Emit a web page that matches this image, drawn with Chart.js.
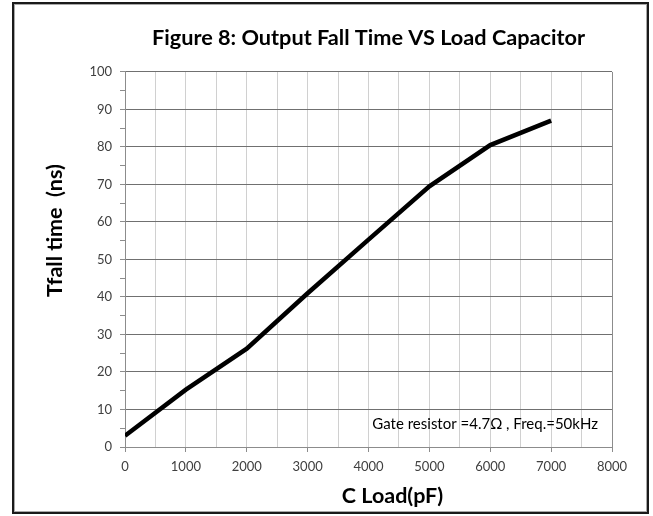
<!DOCTYPE html>
<html><head><meta charset="utf-8">
<script src="https://cdn.jsdelivr.net/npm/chart.js@4.4.0/dist/chart.umd.min.js"></script>
<style>html,body{margin:0;padding:0;background:#fff}#wrap{width:653px;height:516px;position:relative}</style>
</head><body><div id="wrap"><canvas id="c" width="653" height="516"></canvas></div>
<script>
const chartTitle = 'Figure 8: Output Fall Time VS Load Capacitor';
const xAxisTitle = 'C Load(pF)';
const yAxisTitle = 'Tfall time  (ns)';
const noteText = 'Gate resistor =4.7\u03A9 , Freq.=50kHz';
const cLoad = [0, 1000, 2000, 3000, 4000, 5000, 6000, 7000];
const tFall = [3, 15.3, 26.2, 41, 55.3, 69.5, 80.5, 87];
const xTickLabels = ['0', '1000', '2000', '3000', '4000', '5000', '6000', '7000', '8000'];
const yTickLabels = ['0', '10', '20', '30', '40', '50', '60', '70', '80', '90', '100'];

const FONT = 'Lato, "Open Sans", "Liberation Sans", sans-serif';
Chart.defaults.font.family = FONT;

const framePlugin = {
  id: 'frame',
  beforeDraw(chart) {
    const ctx = chart.ctx;
    ctx.save();
    ctx.fillStyle = '#ffffff';
    ctx.fillRect(0, 0, chart.width, chart.height);
    ctx.restore();
  },
  afterDraw(chart) {
    const ctx = chart.ctx;
    const a = chart.chartArea;
    ctx.save();
    ctx.strokeStyle = '#1a1a1a';
    ctx.lineWidth = 2;
    ctx.strokeRect(13, 3, 635, 510);
    ctx.strokeStyle = '#a8a8a8';
    ctx.lineWidth = 1;
    ctx.strokeRect(14.5, 4.5, 632, 507);
    ctx.fillStyle = '#000';
    // annotation
    ctx.font = '15px ' + FONT;
    ctx.textAlign = 'right';
    ctx.textBaseline = 'middle';
    ctx.fillText(noteText, a.right - 14, a.bottom - 23);
    // x axis title
    ctx.font = 'bold 21.5px ' + FONT;
    ctx.textAlign = 'center';
    ctx.textBaseline = 'alphabetic';
    ctx.fillText(xAxisTitle, (a.left + a.right) / 2 + 24, 503);
    // y axis title (rotated)
    ctx.translate(a.left - 63, a.bottom - 150);
    ctx.rotate(-Math.PI / 2);
    ctx.textAlign = 'left';
    ctx.fillText(yAxisTitle, 0, 0);
    ctx.restore();
  }
};

const labelFor = (arr, v) => {
  const s = String(v);
  return arr.includes(s) ? s : '';
};

new Chart(document.getElementById('c'), {
  type: 'line',
  data: {
    datasets: [{
      data: cLoad.map((x, i) => ({ x: x, y: tFall[i] })),
      borderColor: '#000',
      borderWidth: 4.5,
      pointRadius: 0,
      tension: 0,
      fill: false
    }]
  },
  options: {
    responsive: false,
    animation: false,
    devicePixelRatio: 1,
    layout: { padding: { left: 37, right: 41, top: 0, bottom: 6 } },
    plugins: {
      legend: { display: false },
      tooltip: { enabled: false },
      title: {
        display: true,
        text: chartTitle,
        fullSize: false,
        color: '#000',
        font: { size: 21.7, weight: 'bold', family: FONT, lineHeight: 1.2 },
        padding: { top: 25, bottom: 20.9 }
      }
    },
    scales: {
      x: {
        type: 'linear',
        min: 0, max: 8000,
        afterFit(s) { s.height = 63; },
        border: { color: '#8c8c8c', width: 1 },
        grid: {
          color: c => (c.tick && c.tick.value === 8000) ? '#8c8c8c' : '#d0d0d0',
          tickColor: c => (c.tick && c.tick.value % 1000 === 0) ? '#8c8c8c' : 'rgba(0,0,0,0)',
          tickLength: 5,
          lineWidth: 1
        },
        ticks: {
          stepSize: 500,
          autoSkip: false,
          maxRotation: 0,
          padding: 7,
          color: '#404040',
          font: { size: 13 },
          callback: v => labelFor(xTickLabels, v)
        },
        title: { display: false, text: xAxisTitle }
      },
      y: {
        min: 0, max: 100,
        afterFit(s) { s.width = 88; },
        border: { color: '#8c8c8c', width: 1 },
        grid: {
          color: c => (c.tick && c.tick.value % 10 === 0) ? '#707070' : 'rgba(0,0,0,0)',
          tickColor: '#8c8c8c',
          tickLength: 5,
          lineWidth: 1
        },
        ticks: {
          stepSize: 5,
          autoSkip: false,
          padding: 8,
          color: '#404040',
          font: { size: 13 },
          callback: v => labelFor(yTickLabels, v)
        },
        title: { display: false, text: yAxisTitle }
      }
    }
  },
  plugins: [framePlugin]
});
</script>
</body></html>
